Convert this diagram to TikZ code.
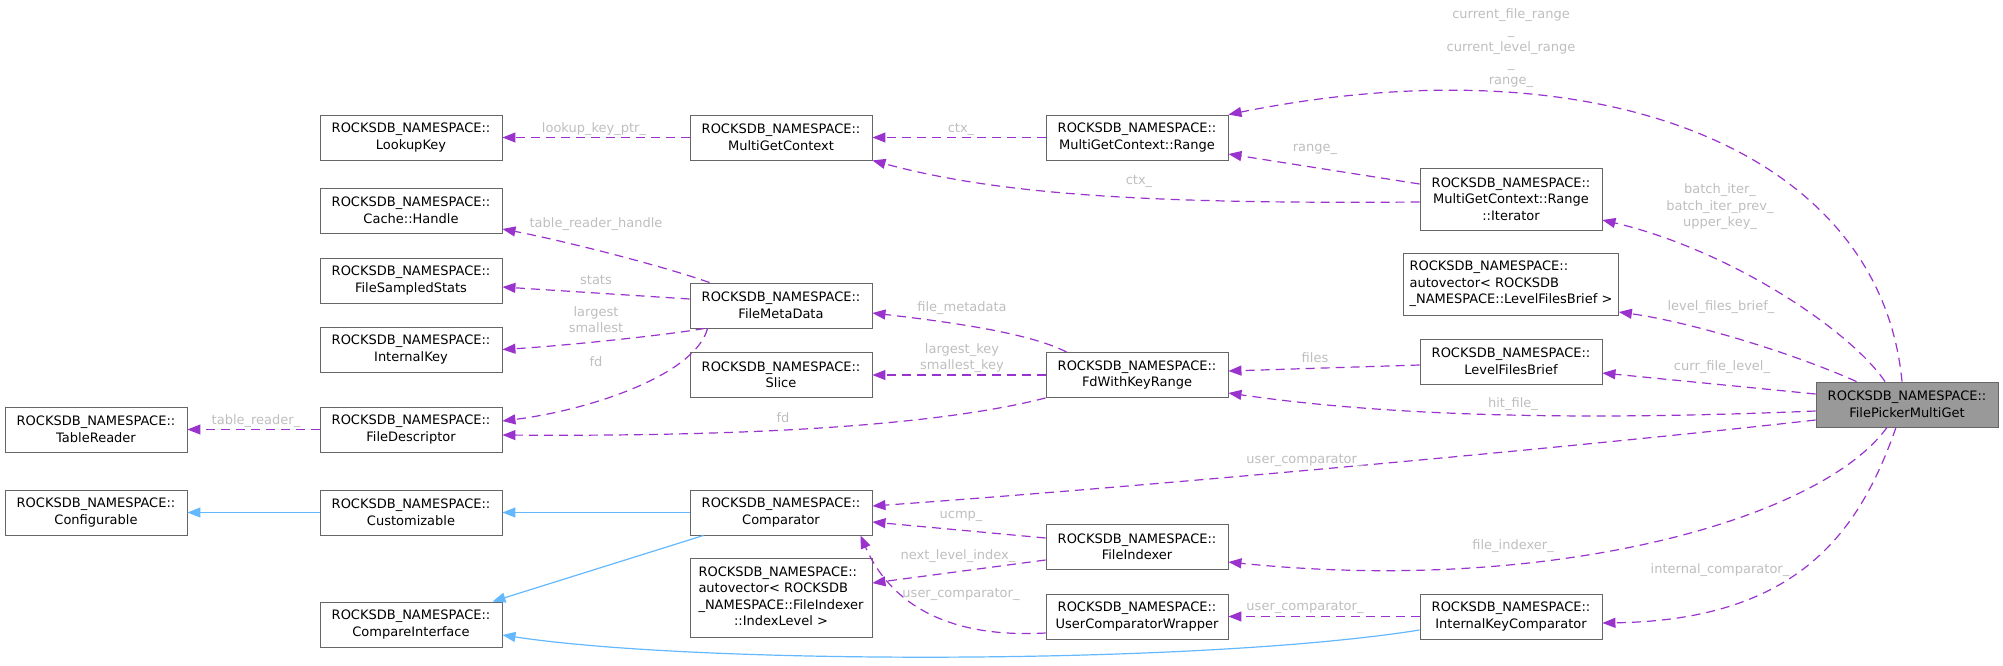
\documentclass[tikz,border=0pt]{standalone}
\usepackage{fontspec}
\newfontfamily\doxfont{DejaVu Sans}
\usetikzlibrary{arrows.meta,calc,positioning}
\definecolor{edgepurple}{HTML}{9A32CD}
\definecolor{inhblue}{HTML}{63B8FF}
\definecolor{boxgray}{HTML}{666666}
\definecolor{lblgray}{HTML}{BEBEBE}
\definecolor{mainfill}{HTML}{999999}

\begin{document}
\begin{tikzpicture}[x=1pt,y=-1pt,
cls/.style={draw=boxgray,line width=0.9pt,fill=white,minimum width=182pt,minimum height=45pt,
  inner xsep=6pt,inner ysep=5pt,align=center,font=\doxfont\fontsize{13}{16.5}\selectfont},
lbl/.style={text=lblgray,inner sep=0pt,align=center,font=\doxfont\fontsize{13}{16.5}\selectfont},
mem/.style={draw=edgepurple,line width=1.2pt,dash pattern=on 9pt off 6pt,-{Triangle[length=13pt,width=10pt]}},
inh/.style={draw=inhblue,line width=1.2pt,-{Triangle[length=13pt,width=10pt]}}]
\useasboundingbox (0,0) rectangle (2003,665);

% classes
\node[cls] (tablereader) at (96,429.5) {ROCKSDB\_NAMESPACE::\\TableReader};
\node[cls] (configurable) at (96,512.5) {ROCKSDB\_NAMESPACE::\\Configurable};
\node[cls] (lookupkey) at (411,137.5) {ROCKSDB\_NAMESPACE::\\LookupKey};
\node[cls] (cachehandle) at (411,210.5) {ROCKSDB\_NAMESPACE::\\Cache::Handle};
\node[cls] (fss) at (411,280.5) {ROCKSDB\_NAMESPACE::\\FileSampledStats};
\node[cls] (internalkey) at (411,349.5) {ROCKSDB\_NAMESPACE::\\InternalKey};
\node[cls] (fd) at (411,429.5) {ROCKSDB\_NAMESPACE::\\FileDescriptor};
\node[cls] (customizable) at (411,512.5) {ROCKSDB\_NAMESPACE::\\Customizable};
\node[cls] (compareinterface) at (411,624.5) {ROCKSDB\_NAMESPACE::\\CompareInterface};
\node[cls] (mgc) at (781,137.5) {ROCKSDB\_NAMESPACE::\\MultiGetContext};
\node[cls] (fmd) at (781,305.5) {ROCKSDB\_NAMESPACE::\\FileMetaData};
\node[cls] (slice) at (781,375) {ROCKSDB\_NAMESPACE::\\Slice};
\node[cls] (comparator) at (781,512.5) {ROCKSDB\_NAMESPACE::\\Comparator};
\node[cls,minimum height=79pt] (autovecfi) at (781,597.5) {\begin{tabular}{@{}l@{}}ROCKSDB\_NAMESPACE::\\autovector< ROCKSDB\\\_NAMESPACE::FileIndexer\\\multicolumn{1}{@{}c@{}}{::IndexLevel >}\end{tabular}};
\node[cls] (range) at (1137,137.5) {ROCKSDB\_NAMESPACE::\\MultiGetContext::Range};
\node[cls] (fdwkr) at (1137,375) {ROCKSDB\_NAMESPACE::\\FdWithKeyRange};
\node[cls] (fileindexer) at (1137,547) {ROCKSDB\_NAMESPACE::\\FileIndexer};
\node[cls] (ucw) at (1137,616.5) {ROCKSDB\_NAMESPACE::\\UserComparatorWrapper};
\node[cls,minimum height=62pt] (iterator) at (1511,199) {ROCKSDB\_NAMESPACE::\\MultiGetContext::Range\\::Iterator};
\node[cls,minimum height=62pt,align=left] (autoveclfb) at (1511,284) {ROCKSDB\_NAMESPACE::\\autovector< ROCKSDB\\\_NAMESPACE::LevelFilesBrief >};
\node[cls] (lfb) at (1511,361.5) {ROCKSDB\_NAMESPACE::\\LevelFilesBrief};
\node[cls] (ikc) at (1511,616.5) {ROCKSDB\_NAMESPACE::\\InternalKeyComparator};
\node[cls,fill=mainfill] (fpmg) at (1907,404.5) {ROCKSDB\_NAMESPACE::\\FilePickerMultiGet};

% inheritance
\draw[inh] (customizable.west) -- (configurable.east);
\draw[inh] (comparator.west) -- (customizable.east);
\draw[inh] ($(comparator.south west)+(14,0)$) -- ($(compareinterface.north east)+(-10,0)$);
\draw[inh] ($(ikc.west)+(0,13.5)$) .. controls (1200,665) and (700,665) .. ($(compareinterface.east)+(0,10.5)$);

% members
\draw[mem] (mgc.west) -- (lookupkey.east);
\draw[mem] ($(fmd.north west)+(20,0)$) .. controls (660,265) and (560,240) .. ($(cachehandle.east)+(0,18.5)$);
\draw[mem] ($(fmd.west)+(0,-6.5)$) -- ($(fss.east)+(0,6.5)$);
\draw[mem] ($(fmd.south west)+(15,0)$) .. controls (660,336) and (560,346) .. (internalkey.east);
\draw[mem] ($(fmd.south west)+(18,0)$) .. controls (695,375) and (590,410) .. ($(fd.east)+(0,-8.5)$);
\draw[mem] (fd.west) -- (tablereader.east);
\draw[mem] (range.west) -- (mgc.east);
\draw[mem] ($(iterator.west)+(0,-15)$) -- ($(range.east)+(0,16.5)$);
\draw[mem] ($(iterator.west)+(0,3)$) .. controls (1150,204) and (1000,195) .. (mgc.south east);
\draw[mem] ($(fdwkr.north west)+(21,0)$) .. controls (1030,333) and (950,322) .. ($(fmd.east)+(0,7.5)$);
\draw[mem] (fdwkr.west) -- (slice.east);
\draw[mem] (fdwkr.south west) .. controls (960,420) and (800,437) .. ($(fd.east)+(0,5.5)$);
\draw[mem] ($(lfb.west)+(0,3.5)$) -- ($(fdwkr.east)+(0,-4)$);
\draw[mem] ($(fpmg.north)+(-5,0)$) .. controls (1880,150) and (1600,40) .. (range.north east);
\draw[mem] ($(fpmg.north)+(-22,0)$) .. controls (1850,330) and (1730,250) .. ($(iterator.east)+(0,21)$);
\draw[mem] ($(fpmg.north west)+(41,0)$) .. controls (1790,352) and (1690,322) .. ($(autoveclfb.east)+(0,28)$);
\draw[mem] ($(fpmg.west)+(0,-10.5)$) -- ($(lfb.east)+(0,11.5)$);
\draw[mem] ($(fpmg.west)+(0,6.5)$) .. controls (1600,420) and (1400,418) .. ($(fdwkr.east)+(0,18)$);
\draw[mem] ($(fpmg.west)+(0,15.5)$) .. controls (1550,450) and (1100,490) .. ($(comparator.east)+(0,-6.5)$);
\draw[mem] ($(fpmg.south)+(-20,0)$) .. controls (1820,520) and (1550,595) .. ($(fileindexer.east)+(0,15)$);
\draw[mem] ($(fpmg.south)+(-11,0)$) .. controls (1860,530) and (1800,620) .. ($(ikc.east)+(0,6.5)$);
\draw[mem] ($(fileindexer.west)+(0,-9)$) -- ($(comparator.east)+(0,9.5)$);
\draw[mem] ($(fileindexer.west)+(0,13)$) -- ($(autovecfi.east)+(0,-14.5)$);
\draw[mem] ($(ucw.west)+(0,16.5)$) .. controls (920,640) and (880,580) .. ($(comparator.south east)+(-12,0)$);
\draw[mem] (ikc.west) -- (ucw.east);

% member names
\node[lbl] (l1) at (594,129) {lookup\_key\_ptr\_};
\node[lbl] (l2) at (596,224) {table\_reader\_handle};
\node[lbl] (l3) at (596,280) {stats};
\node[lbl] (l4) at (596,319.5) {largest\\smallest};
\node[lbl] (l5) at (596,362) {fd};
\node[lbl] (l6) at (256,421) {table\_reader\_};
\node[lbl] (l7) at (961,129) {ctx\_};
\node[lbl] (l8) at (1315,149) {range\_};
\node[lbl] (l9) at (1139,181) {ctx\_};
\node[lbl] (l10) at (962,308) {file\_metadata};
\node[lbl] (l11) at (962,358) {largest\_key\\smallest\_key};
\node[lbl] (l12) at (783,418) {fd};
\node[lbl] (l13) at (1315,358) {files};
\node[lbl] (l14) at (1305,460) {user\_comparator\_};
\node[lbl] (l15) at (961,516) {ucmp\_};
\node[lbl] (l16) at (958,556) {next\_level\_index\_};
\node[lbl] (l17) at (961,594) {user\_comparator\_};
\node[lbl] (l18) at (1305,607) {user\_comparator\_};
\node[lbl] (l19) at (1511,48) {current\_file\_range\\\_\\current\_level\_range\\\_\\range\_};
\node[lbl] (l20) at (1720,207) {batch\_iter\_\\batch\_iter\_prev\_\\upper\_key\_};
\node[lbl] (l21) at (1721,307) {level\_files\_brief\_};
\node[lbl] (l22) at (1722,367) {curr\_file\_level\_};
\node[lbl] (l23) at (1513,404) {hit\_file\_};
\node[lbl] (l24) at (1513,546) {file\_indexer\_};
\node[lbl] (l25) at (1720,570) {internal\_comparator\_};
\end{tikzpicture}
\end{document}
